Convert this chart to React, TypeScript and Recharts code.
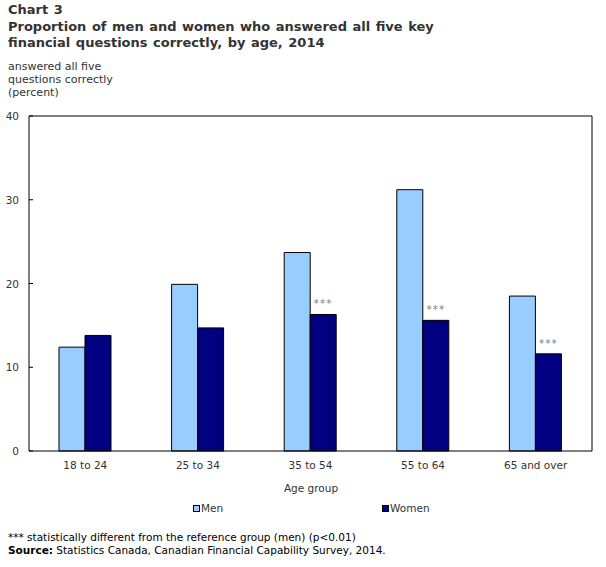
import React from "react";
import { BarChart, Bar, XAxis, YAxis, LabelList } from "recharts";

const categories = ["18 to 24", "25 to 34", "35 to 54", "55 to 64", "65 and over"];
const menValues = [12.4, 19.9, 23.7, 31.2, 18.5];
const womenValues = [13.8, 14.7, 16.3, 15.6, 11.6];
const significance = ["", "", "***", "***", "***"];
const yTicks = [0, 10, 20, 30, 40];

const data = categories.map((c, i) => ({
  cat: c,
  men: menValues[i],
  women: womenValues[i],
  sig: significance[i],
}));

const FONT = "'DejaVu Sans', Verdana, sans-serif";
const TEXT = "#333333";

const YTick = (props: any) => {
  const { x, y, payload } = props;
  const axisX = 29;
  return (
    <g>
      <line x1={axisX} x2={axisX + 4} y1={y} y2={y} stroke="#000" strokeWidth={1} />
      <text x={x} y={y} dy={4} textAnchor="end" fill={TEXT} fontSize={10.5} fontFamily={FONT}>
        {payload.value}
      </text>
    </g>
  );
};

const txt = (style: React.CSSProperties) => ({
  position: "absolute" as const,
  fontFamily: FONT,
  color: TEXT,
  whiteSpace: "nowrap" as const,
  ...style,
});

export default function App() {
  return (
    <div style={{ position: "absolute", left: 0, top: 0, width: 606, height: 567, background: "#fff" }}>
      <div style={txt({ left: 8, top: 2, fontSize: 13, fontWeight: "bold", lineHeight: "16.5px", wordSpacing: 1 })}>
        Chart 3
        <br />
        Proportion of men and women who answered all five key
        <br />
        financial questions correctly, by age, 2014
      </div>
      <div style={txt({ left: 8, top: 60, fontSize: 11, lineHeight: "13px" })}>
        answered all five
        <br />
        questions correctly
        <br />
        (percent)
      </div>
      <div style={{ position: "absolute", left: 0, top: 0 }}>
        <BarChart
          width={606}
          height={567}
          data={data}
          margin={{ top: 115, right: 13, bottom: 86, left: 0 }}
          barGap={0}
          barSize={26}
        >
          <XAxis
            dataKey="cat"
            height={30}
            tickLine={false}
            axisLine={{ stroke: "#000", strokeWidth: 1 }}
            tickSize={0}
            tickMargin={11}
            tick={{ fill: TEXT, fontSize: 10.5, fontFamily: FONT }}
            interval={0}
          />
          <XAxis xAxisId="top" orientation="top" dataKey="cat" height={1} tick={false} tickLine={false} axisLine={{ stroke: "#000", strokeWidth: 1 }} />
          <YAxis
            width={29}
            domain={[0, 40]}
            ticks={yTicks}
            tickLine={false}
            tickSize={0}
            tickMargin={10}
            axisLine={{ stroke: "#000", strokeWidth: 1 }}
            tick={<YTick />}
          />
          <YAxis yAxisId="right" orientation="right" width={1} domain={[0, 40]} tick={false} tickLine={false} axisLine={{ stroke: "#000", strokeWidth: 1 }} />
          <Bar dataKey="men" name="Men" fill="#99CCFF" stroke="#000" strokeWidth={1} isAnimationActive={false} />
          <Bar dataKey="women" name="Women" fill="#000080" stroke="#000" strokeWidth={1} isAnimationActive={false}>
            <LabelList dataKey="sig" position="top" offset={7} fill="#808080" fontSize={10.5} fontFamily={FONT} letterSpacing={1} />
          </Bar>
        </BarChart>
      </div>
      <div style={txt({ left: 0, width: 606, top: 482, textAlign: "center", fontSize: 10.5, paddingLeft: 16, boxSizing: "border-box" })}>
        Age group
      </div>
      <div style={txt({ left: 193, top: 502, fontSize: 10.5, display: "flex", alignItems: "center" })}>
        <span style={{ display: "inline-block", width: 5, height: 5, background: "#99CCFF", border: "1px solid #000", marginRight: 1 }} />
        Men
      </div>
      <div style={txt({ left: 382, top: 502, fontSize: 10.5, display: "flex", alignItems: "center" })}>
        <span style={{ display: "inline-block", width: 5, height: 5, background: "#000080", border: "1px solid #000", marginRight: 1 }} />
        Women
      </div>
      <div style={txt({ left: 8, top: 531, fontSize: 10.5, lineHeight: "13px", color: "#000" })}>
        *** statistically different from the reference group (men) (p&lt;0.01)
        <br />
        <b>Source:</b> Statistics Canada, Canadian Financial Capability Survey, 2014.
      </div>
    </div>
  );
}
